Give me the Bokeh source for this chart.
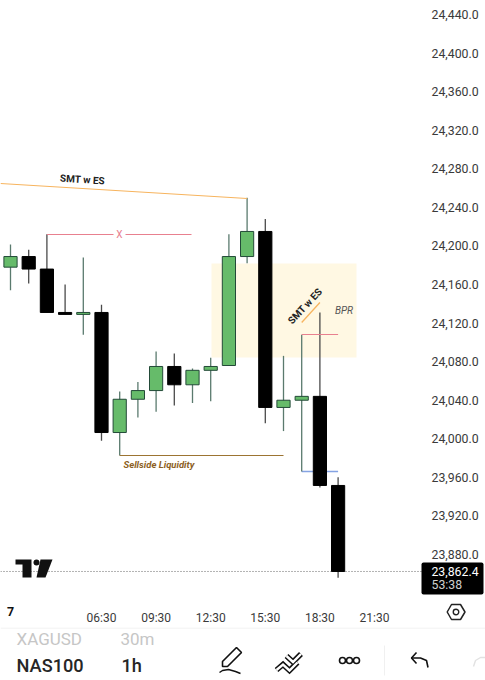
import math
from bokeh.plotting import figure
from bokeh.layouts import column
from bokeh.models import (ColumnDataSource, FixedTicker, Range1d, LinearAxis, NumeralTickFormatter)
from bokeh.core.properties import value
from bokeh.embed import file_html
from bokeh.resources import INLINE

# ---- data ----
times = ["01:30","02:30","03:30","04:30","05:30","06:30","07:30","08:30","09:30","10:30",
         "11:30","12:30","13:30","14:30","15:30","16:30","17:30","18:30","19:30"]
opens  = [24178, 24189, 24176, 24131, 24129, 24131, 24006.5, 24041, 24050, 24075, 24056, 24071, 24076, 24189, 24215, 24032.5, 24040, 24044, 23951.6]
closes = [24189, 24176, 24131, 24129, 24131, 24006.5, 24041, 24050, 24075, 24056, 24071, 24075, 24189, 24215, 24032.5, 24040, 24044, 23951.6, 23862.4]
highs  = [24201.5, 24196, 24212, 24160, 24188, 24139, 24049, 24059, 24090.5, 24088.5, 24073, 24084, 24212, 24250, 24228, 24086, 24108, 24131, 23960]
lows   = [24154, 24161, 24131, 24129, 24108, 23998, 23982.7, 24022, 24028, 24034.5, 24037, 24039, 24076, 24182, 24016, 24008, 23966, 23949.5, 23856]
price_ticks = [23880 + 40 * k for k in range(15)]
time_ticks = {5: "06:30", 8: "09:30", 11: "12:30", 14: "15:30", 17: "18:30", 20: "21:30"}
last_price = 23862.4
last_label = "23,862.4"
countdown = "53:38"

# ---- page-pixel mapping of the chart frame ----
W, H, PLOT_R, PANEL_T = 485, 680, 421, 627
STEP = 18.2
def ix(px): return (px - 10) / STEP
PPP = 1 / 0.9643
def pr(py): return 24440 - (py - 14) * PPP

FONT = value("Roboto")
p = figure(width=W, height=PANEL_T, output_backend="svg", toolbar_location=None,
           x_range=Range1d(ix(0), ix(W)), y_range=Range1d(pr(PANEL_T), pr(0)),
           x_axis_location=None, y_axis_location=None, min_border=0, outline_line_color=None,
           background_fill_color="white", border_fill_color="white")
p.grid.visible = False

ax_r = LinearAxis(ticker=FixedTicker(ticks=price_ticks), formatter=NumeralTickFormatter(format="0,0.0"),
                  axis_line_color=None, major_tick_line_color=None, minor_tick_line_color=None,
                  major_label_standoff=425 - W, major_label_text_font="Roboto",
                  major_label_text_font_size="12.3px", major_label_text_color="#3a3a3a")
p.add_layout(ax_r, "right")
ax_b = LinearAxis(ticker=FixedTicker(ticks=list(time_ticks)), major_label_overrides=time_ticks,
                  axis_line_color=None, major_tick_line_color=None, minor_tick_line_color=None,
                  major_label_standoff=604 - PANEL_T, major_label_text_font="Roboto",
                  major_label_text_font_size="12px", major_label_text_color="#3a3a3a")
p.add_layout(ax_b, "below")

# yellow BPR zone
p.quad(left=[ix(211)], right=[ix(356)], top=[pr(263)], bottom=[pr(357)], fill_color="#FFF8E3", line_color=None)
# last price line
p.line([ix(0), ix(PLOT_R)], [last_price, last_price], line_color="#666666", line_width=1, line_dash="1 2")

ORANGE, RED, BROWN, BLUE = "#F7B45E", "#E8808F", "#9C7432", "#85A3E3"
p.line([16, 18], [pr(471), pr(471)], line_color=BLUE, line_width=1.3)

# candles
idx = list(range(len(times)))
up = [c > o for o, c in zip(opens, closes)]
src = ColumnDataSource(dict(
    x=idx, top=[max(o, c) for o, c in zip(opens, closes)], bottom=[min(o, c) for o, c in zip(opens, closes)],
    high=highs, low=lows,
    fill=["#66BB6A" if u else "#000000" for u in up],
    edge=["#234A38" if u else "#000000" for u in up],
    wick=["#5A7A6E" if u else "#4A4A4A" for u in up]))
p.segment("x", "high", "x", "low", source=src, line_color="wick", line_width=1.3)
p.vbar(x="x", top="top", bottom="bottom", width=13.2 / STEP, source=src,
       fill_color="fill", line_color="edge", line_width=1)

# drawings
p.line([ix(0), 13], [pr(183), pr(198)], line_color=ORANGE, line_width=1.2)
p.line([2, ix(113)], [pr(234), pr(234)], line_color=RED, line_width=1.2)
p.line([ix(125), ix(191)], [pr(234), pr(234)], line_color=RED, line_width=1.2)
p.line([6, 15], [pr(455), pr(455)], line_color=BROWN, line_width=1.2)
p.line([16, 18], [pr(334), pr(334)], line_color=RED, line_width=1.2)
p.line([16, 17], [pr(322), pr(302)], line_color=ORANGE, line_width=1.3)

def txt(s, px, py, size, color="#222222", style="normal", angle=0, align="center"):
    p.text([ix(px)], [pr(py)], text=[s], text_font=FONT, text_font_size=size, text_color=color,
           text_font_style=style, angle=angle, text_align=align, text_baseline="middle")
txt("SMT w ES", 82, 179, "10px", style="bold", angle=math.radians(-3.5))
txt("SMT w ES", 304.5, 305.5, "10px", style="bold", angle=math.radians(47))
txt("X", 119, 234, "10px", color=RED)
txt("Sellside Liquidity", 123, 464, "9.5px", color="#8D5F24", style="bold italic", align="left")
txt("BPR", 343.5, 310, "10px", color="#555555", style="italic")

# TradingView mark
p.patch([ix(v) for v in (15, 31, 31, 22, 22, 15)], [pr(v) for v in (559, 559, 577, 577, 564, 564)], fill_color="#111111", line_color=None)
p.patch([ix(v) for v in (40, 52, 45, 36)], [pr(v) for v in (559, 559, 577, 577)], fill_color="#111111", line_color=None)
p.scatter([ix(36)], [pr(562)], size=6, fill_color="#111111", line_color=None)

# price tag, date label and settings icon
p.quad(left=[ix(PLOT_R)], right=[ix(483)], top=[pr(562)], bottom=[pr(594)], fill_color="#000000",
       line_color=None, border_radius=2)
txt(last_label, 454.5, 570.5, "12.3px", color="white")
txt(countdown, 431, 584.5, "12.3px", color="#D0D0D0", align="left")
txt("7", 10, 611, "12.5px", color="#111111", style="bold")
p.patch([ix(v) for v in (446.7, 451, 460, 464.5, 460, 451)], [pr(v) for v in (611.5, 604, 604, 611.5, 619, 619)],
        fill_color="white", line_color="#222222", line_width=1.5)
p.scatter([ix(455.5)], [pr(611.5)], size=5.5, fill_color="white", line_color="#222222", line_width=1.4)

# bottom panel
b = figure(width=W, height=H - PANEL_T, output_backend="svg", toolbar_location=None,
           x_range=Range1d(0, W), y_range=Range1d(H, PANEL_T), x_axis_location=None, y_axis_location=None,
           min_border=0, outline_line_color=None, background_fill_color="white", border_fill_color="white")
b.grid.visible = False
b.line([0, W], [627.5, 627.5], line_color="#EDEDED", line_width=1)
def t2(s, x, y, size, color, style="normal", align="left", font="Roboto"):
    b.text([x], [y], text=[s], text_font=value(font), text_font_size=size, text_color=color,
           text_font_style=style, text_align=align, text_baseline="alphabetic")
t2("XAGUSD", 16, 638, "17px", "#C6C6C6")
t2("30m", 120, 638, "17px", "#C6C6C6")
t2("NAS100", 16, 665, "18.2px", "#262626", font="Roboto Medium")
t2("1h", 121, 665, "18.2px", "#262626", font="Roboto Medium")
INK = "#111111"
b.patch([222, 236, 241, 227, 222], [661, 647, 652, 666, 666], fill_color="white", line_color=INK, line_width=1.6)
b.line([219, 222, 228, 235, 240], [672, 670, 669, 671, 673], line_color=INK, line_width=1.5)
zig_x = [[276, 282.5, 289, 297], [286, 292.5, 300.5]]
zig_y = [[669.5, 664, 670, 662], [655.5, 661.5, 653.5]]
b.multi_line(zig_x, zig_y, line_color=INK, line_width=5.5, line_join="miter")
b.multi_line(zig_x, zig_y, line_color="white", line_width=2.4, line_join="miter")
b.scatter([342, 349, 356], [660, 660, 660], size=6, fill_color="white", line_color=INK, line_width=1.6)
b.line([384, 384], [645, 675], line_color="#F0F0F0", line_width=1)
b.line([416, 411, 416], [652, 657.5, 663], line_color=INK, line_width=1.6)
b.line([411, 420, 426, 427.5], [657.5, 657.5, 660, 667], line_color=INK, line_width=1.6)
b.line([473, 475, 480, 485], [666, 660, 657, 657], line_color="#E2E2E2", line_width=1.4)

layout = column(p, column(b), spacing=0)
open("out.html", "w").write(file_html(layout, INLINE))
